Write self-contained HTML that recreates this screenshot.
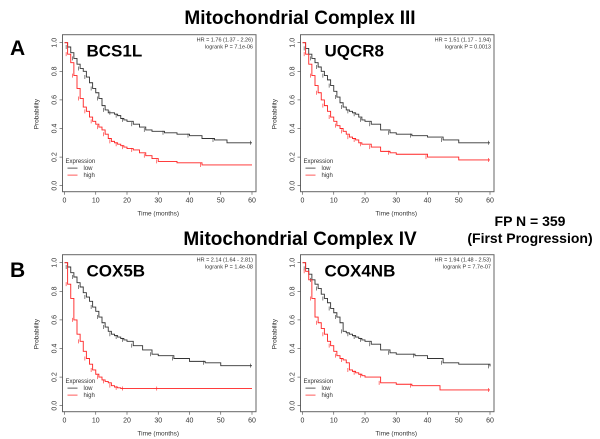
<!DOCTYPE html>
<html><head><meta charset="utf-8"><style>
body{margin:0;background:#fff;}
svg{display:block;font-family:"Liberation Sans",sans-serif;}
</style></head><body>
<svg id="c" width="600" height="439" viewBox="0 0 600 439">
<text x="300" y="24" text-anchor="middle" font-size="19" font-weight="bold">Mitochondrial Complex III</text>
<text x="300" y="245" text-anchor="middle" font-size="19" font-weight="bold">Mitochondrial Complex IV</text>
<text x="10" y="55" font-size="21" font-weight="bold">A</text>
<text x="10" y="277" font-size="21" font-weight="bold">B</text>
<text x="530" y="226" text-anchor="middle" font-size="14" font-weight="bold">FP  N = 359</text>
<text x="530" y="243" text-anchor="middle" font-size="14" font-weight="bold">(First Progression)</text>
</svg>
<script>
const genes=["BCS1L","UQCR8","COX5B","COX4NB"];
const hrText=["HR = 1.76 (1.37 - 2.26)","HR = 1.51 (1.17 - 1.94)","HR = 2.14 (1.64 - 2.81)","HR = 1.94 (1.48 - 2.53)"];
const pText=["logrank P = 7.1e-06","logrank P = 0.0013","logrank P = 1.4e-08","logrank P = 7.7e-07"];
const xTicks=[0,10,20,30,40,50,60];
const yTicks=[0,0.2,0.4,0.6,0.8,1.0];
const earlyMonths=[0,1,2,3,4,5,6,7,8,9,10,11,12,13,14,15,16,17,18,19,20];
const lowTail=[[22,24,26,28,32,36,40,44,48,52,60],[22,25,28,30,35,40,45,50,60],[22,25,28,30,35,40,45,50,60],[22,25,28,30,36,40,45,50,60]];
const lowS=[
[1,0.97,0.93,0.89,0.85,0.82,0.8,0.76,0.72,0.68,0.65,0.61,0.56,0.53,0.51,0.51,0.5,0.49,0.47,0.46,0.45, 0.43,0.41,0.39,0.38,0.37,0.36,0.35,0.33,0.32,0.30,0.30],
[1,0.96,0.92,0.89,0.86,0.83,0.8,0.77,0.74,0.7,0.66,0.62,0.58,0.55,0.53,0.52,0.51,0.5,0.48,0.46,0.45, 0.43,0.39,0.37,0.36,0.35,0.34,0.32,0.3,0.3],
[1,0.97,0.93,0.9,0.86,0.83,0.79,0.76,0.73,0.69,0.66,0.62,0.58,0.55,0.52,0.5,0.49,0.48,0.47,0.46,0.45, 0.42,0.39,0.36,0.35,0.33,0.31,0.3,0.28,0.28],
[1,0.96,0.92,0.88,0.85,0.82,0.78,0.75,0.72,0.68,0.65,0.62,0.58,0.52,0.51,0.5,0.49,0.48,0.47,0.46,0.45, 0.43,0.39,0.37,0.36,0.35,0.33,0.3,0.29,0.275]];
const highTail=[[22,24,26,28,30,36,44,60],[22,25,28,30,40,50,60],[30,60],[25,30,35,44,60]];
const highS=[
[1,0.92,0.86,0.77,0.68,0.61,0.55,0.52,0.48,0.45,0.43,0.41,0.39,0.36,0.33,0.31,0.3,0.29,0.28,0.27,0.26, 0.25,0.23,0.21,0.19,0.17,0.16,0.145,0.145],
[1,0.92,0.85,0.77,0.7,0.65,0.6,0.56,0.52,0.48,0.45,0.42,0.4,0.38,0.36,0.34,0.33,0.32,0.3,0.29,0.29, 0.27,0.24,0.23,0.22,0.2,0.18,0.18],
[1,0.85,0.75,0.6,0.5,0.45,0.38,0.33,0.29,0.25,0.22,0.2,0.18,0.17,0.16,0.14,0.13,0.125,0.12,0.12,0.12, 0.12,0.12],
[1,0.94,0.88,0.75,0.62,0.58,0.54,0.5,0.45,0.42,0.38,0.35,0.33,0.32,0.3,0.25,0.24,0.23,0.22,0.21,0.2, 0.16,0.15,0.14,0.11,0.11]];
const NS="http://www.w3.org/2000/svg";
const svg=document.getElementById('c');
function mk(tag,attrs,parent,txt){const e=document.createElementNS(NS,tag);for(const k in attrs)e.setAttribute(k,attrs[k]);if(txt!==undefined)e.textContent=txt;(parent||svg).appendChild(e);return e;}
const offs=[[0,0],[238,0],[0,220],[238,220]];
genes.forEach((g,i)=>{
  const X0=64.5+offs[i][0], Y0=185.7+offs[i][1], H=143, W=187.5;
  const sx=t=>X0+t/60*W, sy=p=>Y0-p*H;
  const grp=mk('g',{});
  
  
  const box=mk('rect',{x:X0-2,y:sy(1)-8,width:W+6,height:H+14,fill:'none',stroke:'#666','stroke-width':1},grp);
  
  
  xTicks.forEach(t=>{
    mk('line',{x1:sx(t),x2:sx(t),y1:Y0+6,y2:Y0+9,stroke:'#444','stroke-width':0.6},grp);
    const l=mk('text',{x:sx(t),y:Y0+17,'text-anchor':'middle','font-size':7,fill:'#333'},grp,t);
    
    
  });
  yTicks.forEach(p=>{
    mk('line',{x1:X0-5,x2:X0-2,y1:sy(p),y2:sy(p),stroke:'#444','stroke-width':0.6},grp);
    const l=mk('text',{x:X0-8,y:sy(p),'text-anchor':'middle','font-size':7,fill:'#333',transform:`rotate(-90 ${X0-8} ${sy(p)})`},grp,p.toFixed(1));
    
    
  });
  const xt=mk('text',{x:X0+W/2,y:Y0+30,'text-anchor':'middle','font-size':6.5,fill:'#333'},grp,'Time (months)');
  
  
  const yx=X0-26, yy=Y0-H/2;
  const yt=mk('text',{x:yx,y:yy,'text-anchor':'middle','font-size':6.5,fill:'#333',transform:`rotate(-90 ${yx} ${yy})`},grp,'Probability');
  
  
  const gn=mk('text',{x:X0+22,y:sy(1)+14,'font-size':17,'font-weight':'bold'},grp,g);
  
  
  const h=mk('text',{x:X0+W+1,y:sy(1)-1,'text-anchor':'end','font-size':5.5,fill:'#333'},grp,hrText[i]);
  
  
  const pv=mk('text',{x:X0+W+1,y:sy(1)+6,'text-anchor':'end','font-size':5.5,fill:'#333'},grp,pText[i]);
  
  
  const lt=mk('text',{x:X0+1,y:sy(0.2)+6,'font-size':6,fill:'#333'},grp,'Expression');
  
  
  [['low','#333',sy(0.2)+13],['high','#f33',sy(0.2)+20]].forEach(([n,c,y])=>{
    const le=mk('g',{},grp);
    
    
    mk('line',{x1:X0+3,x2:X0+13,y1:y-2,y2:y-2,stroke:c,'stroke-width':0.8},le);
    mk('text',{x:X0+19,y:y,'font-size':6,fill:'#333'},le,n);
  });
  [[earlyMonths.concat(lowTail[i]),lowS[i],'#333','low'],[earlyMonths.concat(highTail[i]),highS[i],'#f22','high']].forEach(([T,S,c,n])=>{
    let d=`M${sx(T[0])},${sy(S[0])}`;
    for(let k=1;k<T.length;k++){d+=`H${sx(T[k])}V${sy(S[k])}`;}
    const p=mk('path',{d:d,fill:'none',stroke:c,'stroke-width':0.9},grp);
    
    
    for(let k=1;k<T.length;k+=2){
      const x=sx(T[k])-1.5,y=sy(S[k]);
      mk('line',{x1:x,x2:x,y1:y-2,y2:y+2,stroke:c,'stroke-width':0.6},grp);
    }
  });
});
</script>
</body></html>
